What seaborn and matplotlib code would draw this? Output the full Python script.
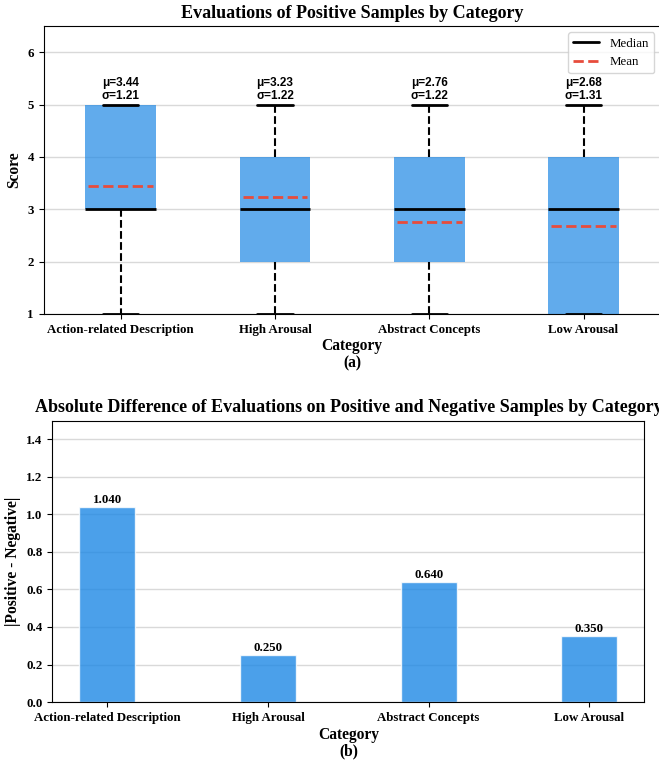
import numpy as np
import pandas as pd
import matplotlib
matplotlib.use("Agg")
import matplotlib.pyplot as plt
from matplotlib.lines import Line2D
import seaborn as sns

categories = ["Action-related Description", "High Arousal", "Abstract Concepts", "Low Arousal"]

# five-number summaries of the positive-sample scores
whisker_low = [1, 1, 1, 1]
q1 = [3, 2, 2, 1]
medians = [3, 3, 3, 3]
q3 = [5, 4, 4, 4]
whisker_high = [5, 5, 5, 5]
means = [3.44, 3.23, 2.76, 2.68]
stds = [1.21, 1.22, 1.22, 1.31]

# |positive - negative| per category
abs_diff = [1.040, 0.250, 0.640, 0.350]

BLUE = "#1e88e5"
RED = "#e74c3c"

sns.set_style("ticks")
plt.rcParams["font.family"] = ["Liberation Serif", "DejaVu Serif"]
plt.rcParams["font.weight"] = "bold"
plt.rcParams["axes.labelweight"] = "bold"
plt.rcParams["axes.titleweight"] = "bold"
for key in ["text.color", "axes.labelcolor", "xtick.color", "ytick.color", "axes.edgecolor"]:
    plt.rcParams[key] = "black"

TICK = 9.3
LABEL = 11.2
TITLE = 13

fig = plt.figure(figsize=(6.59, 7.61), dpi=100)
ax1 = fig.add_axes([0.0662, 0.5874, 0.9363, 0.3784])
ax2 = fig.add_axes([0.0794, 0.0775, 0.8983, 0.3697])

# ---- (a) box plot ----
stats = []
for i, cat in enumerate(categories):
    stats.append({
        "label": cat,
        "whislo": whisker_low[i],
        "q1": q1[i],
        "med": medians[i],
        "q3": q3[i],
        "whishi": whisker_high[i],
        "mean": means[i],
        "fliers": [],
    })
pos = np.arange(len(categories))
ax1.bxp(
    stats,
    positions=pos,
    widths=0.46,
    patch_artist=True,
    showfliers=False,
    boxprops=dict(facecolor=BLUE, edgecolor="none", alpha=0.7),
    medianprops=dict(color="black", linewidth=2),
    whiskerprops=dict(color="black", linewidth=1.5, linestyle="--"),
    capprops=dict(color="black", linewidth=2),
)
ax1.hlines(means, pos - 0.21, pos + 0.21, colors=RED, linestyles="--", linewidth=2, zorder=4)
for x, hi, m, s in zip(pos, whisker_high, means, stds):
    ax1.text(x, hi + 0.05, f"μ={m:.2f}\nσ={s:.2f}", ha="center", va="bottom",
             fontsize=8.5, fontweight="bold", family=["Liberation Sans", "DejaVu Sans"],
             linespacing=1.1)

ax1.set_xlim(-0.5, len(categories) - 0.5)
ax1.set_ylim(1, 6.5)
ax1.set_xticks(pos)
ax1.set_xticklabels(categories, fontsize=TICK, fontweight="bold")
ax1.tick_params(axis="y", labelsize=TICK)
ax1.set_title("Evaluations of Positive Samples by Category", fontsize=TITLE)
ax1.set_xlabel("Category\n(a)", fontsize=LABEL, labelpad=2, linespacing=1.1)
ax1.set_ylabel("Score", fontsize=LABEL)
ax1.yaxis.grid(True, color="#d9d9d9", linewidth=1)
ax1.set_axisbelow(True)
handles = [Line2D([0], [0], color="black", linewidth=2),
           Line2D([0], [0], color=RED, linewidth=2, linestyle="--")]
ax1.legend(handles, ["Median", "Mean"], loc="upper right",
           prop={"family": "Liberation Serif", "weight": "normal", "size": TICK})

# ---- (b) bar plot ----
df = pd.DataFrame({"Category": categories, "diff": abs_diff})
bar_w = 0.35
sns.barplot(data=df, x="Category", y="diff", ax=ax2, color=BLUE, width=bar_w,
            alpha=0.8, edgecolor="white", linewidth=1, saturation=1)
for c in ax2.containers:
    ax2.bar_label(c, fmt="%.3f", fontsize=TICK, fontweight="bold", padding=1)
n = len(categories)
pad = 0.05 * (n - 1 + bar_w)
ax2.set_xlim(-bar_w / 2 - pad, n - 1 + bar_w / 2 + pad)
ax2.set_ylim(0, 1.5)
yt = np.arange(0, 1.41, 0.2)
ax2.set_yticks(yt)
ax2.set_yticklabels([f"{v:.1f}" for v in yt])
ax2.tick_params(axis="both", labelsize=TICK)
for lab in ax2.get_xticklabels() + ax2.get_yticklabels():
    lab.set_fontweight("bold")
ax2.set_title("Absolute Difference of Evaluations on Positive and Negative Samples by Category",
              fontsize=TITLE)
ax2.set_xlabel("Category\n(b)", fontsize=LABEL, labelpad=2, linespacing=1.1)
ax2.set_ylabel("|Positive - Negative|", fontsize=LABEL)
ax2.yaxis.grid(True, color="#d9d9d9", linewidth=1)
ax2.set_axisbelow(True)
for sp in ax2.spines.values():
    sp.set_visible(True)

fig.savefig("out.png", dpi=100)
